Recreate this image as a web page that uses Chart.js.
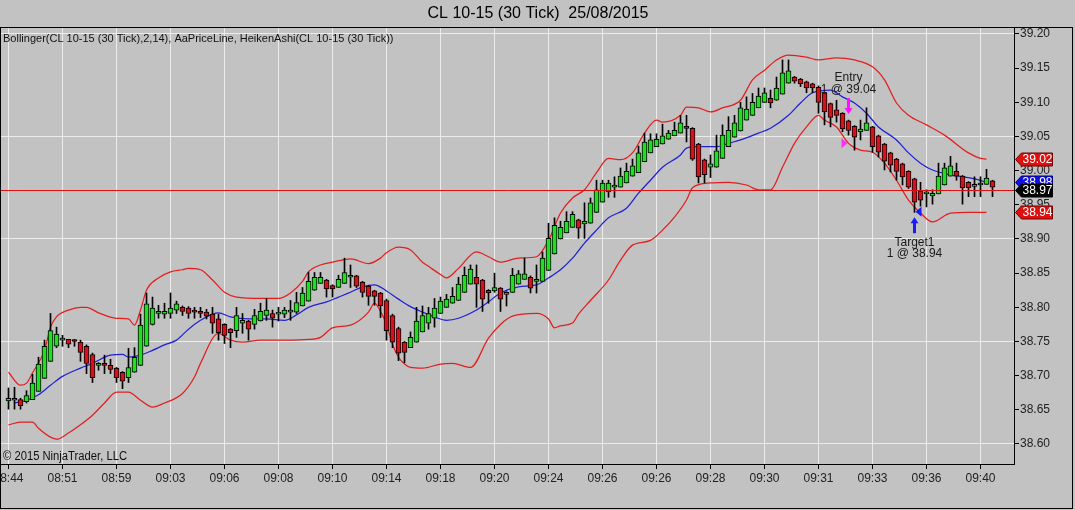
<!DOCTYPE html>
<html>
<head>
<meta charset="utf-8">
<title>CL 10-15 (30 Tick)</title>
<script src="https://cdn.jsdelivr.net/npm/chart.js@4.4.1/dist/chart.umd.min.js"></script>
<style>
    html, body { margin: 0; padding: 0; background: #c2c2c2; }
    canvas { display: block; }
</style>
</head>
<body>
<canvas id="myChart" width="1075" height="510"></canvas>
<script>
// Heiken Ashi bars, one per 30 tick bar (index 0..164)
const haOpen = [
    38.663, 38.664, 38.665, 38.662, 38.665, 38.677, 38.696, 38.721, 38.743, 38.752,
    38.753, 38.751, 38.749, 38.743, 38.731, 38.715, 38.716, 38.715, 38.711, 38.705,
    38.697, 38.705, 38.715, 38.743, 38.775, 38.791, 38.790, 38.791, 38.796, 38.800,
    38.799, 38.795, 38.794, 38.793, 38.790, 38.783, 38.775, 38.768, 38.766, 38.777,
    38.780, 38.775, 38.780, 38.788, 38.791, 38.790, 38.790, 38.793, 38.793, 38.802,
    38.809, 38.825, 38.835, 38.840, 38.832, 38.829, 38.835, 38.844, 38.846, 38.837,
    38.831, 38.824, 38.821, 38.810, 38.788, 38.769, 38.749, 38.741, 38.749, 38.764,
    38.777, 38.784, 38.791, 38.800, 38.806, 38.810, 38.822, 38.834, 38.844, 38.840,
    38.825, 38.824, 38.828, 38.819, 38.822, 38.834, 38.841, 38.844, 38.838, 38.838,
    38.854, 38.878, 38.900, 38.909, 38.917, 38.928, 38.922, 38.923, 38.939, 38.954,
    38.969, 38.976, 38.976, 38.982, 38.992, 38.997, 39.013, 39.026, 39.035, 39.039,
    39.046, 39.051, 39.055, 39.063, 39.062, 39.039, 39.016, 39.005, 39.005, 39.018,
    39.035, 39.049, 39.058, 39.074, 39.081, 39.092, 39.100, 39.106, 39.103, 39.112,
    39.128, 39.137, 39.134, 39.130, 39.127, 39.122, 39.114, 39.098, 39.089, 39.084,
    39.073, 39.065, 39.057, 39.059, 39.064, 39.051, 39.039, 39.026, 39.017, 39.010,
    38.999, 38.988, 38.970, 38.966, 38.963, 38.966, 38.979, 38.992, 38.999, 38.992,
    38.983, 38.977, 38.979, 38.980, 38.985
];
const haHigh = [
    38.682, 38.683, 38.667, 38.678, 38.702, 38.727, 38.752, 38.791, 38.771, 38.759,
    38.753, 38.753, 38.752, 38.745, 38.733, 38.719, 38.730, 38.724, 38.712, 38.706,
    38.740, 38.741, 38.790, 38.821, 38.815, 38.803, 38.806, 38.821, 38.809, 38.802,
    38.801, 38.800, 38.800, 38.797, 38.800, 38.790, 38.776, 38.769, 38.800, 38.791,
    38.781, 38.797, 38.806, 38.813, 38.796, 38.800, 38.800, 38.810, 38.822, 38.829,
    38.851, 38.851, 38.851, 38.841, 38.833, 38.847, 38.872, 38.862, 38.847, 38.838,
    38.832, 38.825, 38.822, 38.812, 38.790, 38.771, 38.750, 38.764, 38.800, 38.802,
    38.800, 38.813, 38.815, 38.819, 38.829, 38.844, 38.859, 38.862, 38.862, 38.841,
    38.826, 38.850, 38.829, 38.823, 38.857, 38.854, 38.872, 38.846, 38.862, 38.881,
    38.923, 38.931, 38.926, 38.940, 38.940, 38.929, 38.953, 38.960, 38.986, 38.986,
    38.986, 38.991, 39.004, 39.011, 39.017, 39.036, 39.055, 39.054, 39.054, 39.068,
    39.059, 39.071, 39.081, 39.081, 39.063, 39.040, 39.017, 39.023, 39.052, 39.067,
    39.079, 39.081, 39.100, 39.108, 39.113, 39.121, 39.121, 39.118, 39.137, 39.162,
    39.162, 39.138, 39.135, 39.131, 39.128, 39.124, 39.115, 39.099, 39.103, 39.085,
    39.074, 39.066, 39.074, 39.092, 39.065, 39.052, 39.040, 39.027, 39.018, 39.011,
    39.000, 38.989, 38.983, 38.972, 38.972, 39.011, 39.011, 39.021, 39.011, 38.993,
    38.984, 38.991, 38.991, 39.002, 38.986
];
const haLow = [
    38.651, 38.651, 38.651, 38.660, 38.665, 38.677, 38.696, 38.721, 38.741, 38.743,
    38.741, 38.743, 38.721, 38.703, 38.690, 38.708, 38.703, 38.703, 38.690, 38.681,
    38.690, 38.705, 38.715, 38.743, 38.774, 38.784, 38.784, 38.784, 38.791, 38.788,
    38.784, 38.784, 38.785, 38.783, 38.762, 38.752, 38.747, 38.741, 38.756, 38.762,
    38.752, 38.768, 38.780, 38.781, 38.771, 38.780, 38.785, 38.781, 38.791, 38.802,
    38.809, 38.825, 38.835, 38.815, 38.815, 38.829, 38.835, 38.829, 38.829, 38.815,
    38.803, 38.803, 38.785, 38.752, 38.741, 38.722, 38.719, 38.741, 38.749, 38.764,
    38.768, 38.771, 38.791, 38.800, 38.806, 38.810, 38.822, 38.834, 38.800, 38.794,
    38.806, 38.822, 38.794, 38.802, 38.822, 38.834, 38.841, 38.821, 38.821, 38.838,
    38.854, 38.878, 38.900, 38.909, 38.917, 38.901, 38.901, 38.923, 38.939, 38.954,
    38.961, 38.961, 38.976, 38.982, 38.992, 38.997, 39.013, 39.026, 39.035, 39.039,
    39.046, 39.051, 39.055, 39.042, 39.015, 38.982, 38.982, 38.990, 39.005, 39.018,
    39.035, 39.049, 39.058, 39.074, 39.081, 39.092, 39.100, 39.092, 39.103, 39.112,
    39.128, 39.128, 39.123, 39.114, 39.114, 39.084, 39.067, 39.064, 39.071, 39.057,
    39.052, 39.030, 39.045, 39.059, 39.027, 39.020, 39.001, 38.998, 38.986, 38.979,
    38.974, 38.939, 38.948, 38.947, 38.951, 38.966, 38.979, 38.992, 38.986, 38.951,
    38.962, 38.962, 38.962, 38.980, 38.962
];
const haClose = [
    38.667, 38.667, 38.656, 38.671, 38.689, 38.717, 38.743, 38.766, 38.761, 38.753,
    38.746, 38.750, 38.734, 38.718, 38.697, 38.715, 38.715, 38.709, 38.697, 38.692,
    38.712, 38.727, 38.774, 38.805, 38.799, 38.794, 38.794, 38.799, 38.805, 38.794,
    38.791, 38.793, 38.791, 38.787, 38.777, 38.763, 38.759, 38.763, 38.788, 38.781,
    38.768, 38.788, 38.794, 38.796, 38.784, 38.791, 38.796, 38.796, 38.807, 38.821,
    38.838, 38.844, 38.844, 38.827, 38.827, 38.841, 38.851, 38.847, 38.831, 38.822,
    38.816, 38.816, 38.802, 38.766, 38.749, 38.733, 38.734, 38.756, 38.780, 38.788,
    38.791, 38.799, 38.809, 38.812, 38.816, 38.834, 38.847, 38.856, 38.834, 38.812,
    38.821, 38.829, 38.812, 38.822, 38.847, 38.849, 38.849, 38.828, 38.839, 38.872,
    38.901, 38.920, 38.917, 38.926, 38.936, 38.916, 38.926, 38.953, 38.972, 38.982,
    38.982, 38.977, 38.992, 38.999, 39.007, 39.026, 39.042, 39.045, 39.046, 39.051,
    39.055, 39.059, 39.070, 39.062, 39.017, 38.991, 38.994, 39.010, 39.029, 39.052,
    39.059, 39.070, 39.092, 39.090, 39.100, 39.109, 39.114, 39.099, 39.121, 39.143,
    39.146, 39.131, 39.127, 39.121, 39.121, 39.100, 39.086, 39.078, 39.081, 39.061,
    39.059, 39.049, 39.061, 39.070, 39.035, 39.027, 39.014, 39.008, 38.999, 38.991,
    38.976, 38.954, 38.957, 38.966, 38.967, 38.992, 39.004, 39.007, 38.992, 38.975,
    38.975, 38.980, 38.982, 38.989, 38.976
];

// Bollinger(2,14) as [bar index, value]
const upperBand = [
    [0, 38.705], [2, 38.686], [3, 38.689], [4, 38.704], [6, 38.737], [7, 38.771], [8, 38.786],
    [10, 38.796], [12, 38.800], [13, 38.800], [15, 38.792], [18, 38.784], [20, 38.783], [21, 38.774],
    [22, 38.796], [23, 38.825], [25, 38.843], [27, 38.852], [29, 38.855], [30, 38.857], [32, 38.855],
    [34, 38.840], [36, 38.822], [38, 38.815], [42, 38.813], [45, 38.813], [47, 38.821], [49, 38.838],
    [50, 38.852], [52, 38.862], [54, 38.866], [57, 38.871], [60, 38.864], [62, 38.872], [63, 38.880],
    [65, 38.888], [67, 38.884], [69, 38.866], [70, 38.860], [72, 38.848], [73, 38.843], [75, 38.857],
    [78, 38.881], [80, 38.874], [82, 38.866], [85, 38.872], [88, 38.874], [90, 38.898], [92, 38.938],
    [94, 38.960], [96, 38.972], [98, 38.997], [100, 39.018], [102, 39.016], [104, 39.026], [106, 39.055],
    [108, 39.074], [109, 39.071], [112, 39.081], [113, 39.093], [115, 39.092], [117, 39.086], [119, 39.092],
    [122, 39.103], [124, 39.133], [126, 39.147], [128, 39.162], [130, 39.169], [133, 39.166], [135, 39.162],
    [138, 39.165], [141, 39.162], [144, 39.152], [146, 39.133], [148, 39.099], [150, 39.081], [153, 39.067],
    [156, 39.052], [160, 39.026], [162, 39.018], [163, 39.017]
];
const middleBand = [
    [1, 38.660], [3, 38.664], [5, 38.672], [7, 38.686], [9, 38.699], [12, 38.711], [14, 38.718],
    [17, 38.730], [19, 38.731], [20, 38.727], [22, 38.730], [24, 38.737], [26, 38.745], [28, 38.752],
    [30, 38.768], [32, 38.781], [34, 38.790], [35, 38.792], [37, 38.786], [40, 38.783], [43, 38.783],
    [46, 38.781], [48, 38.789], [50, 38.800], [53, 38.808], [55, 38.815], [57, 38.822], [59, 38.830],
    [61, 38.833], [63, 38.824], [65, 38.812], [67, 38.801], [69, 38.793], [71, 38.786], [73, 38.781],
    [75, 38.784], [78, 38.796], [80, 38.808], [82, 38.821], [85, 38.830], [88, 38.833], [90, 38.843],
    [92, 38.855], [94, 38.872], [96, 38.894], [98, 38.913], [100, 38.931], [103, 38.945], [105, 38.967],
    [107, 38.986], [109, 39.005], [112, 39.023], [113, 39.033], [115, 39.035], [118, 39.035], [120, 39.040],
    [122, 39.045], [125, 39.055], [127, 39.062], [130, 39.081], [132, 39.099], [134, 39.114], [137, 39.118],
    [139, 39.108], [141, 39.099], [143, 39.084], [145, 39.064], [148, 39.045], [150, 39.026], [152, 39.011],
    [154, 39.001], [157, 38.994], [159, 38.991], [161, 38.988], [163, 38.983]
];
const lowerBand = [
    [0, 38.628], [2, 38.632], [4, 38.632], [5, 38.623], [7, 38.610], [8, 38.607], [10, 38.616],
    [12, 38.628], [14, 38.642], [16, 38.660], [18, 38.676], [20, 38.676], [22, 38.664], [24, 38.654],
    [26, 38.660], [29, 38.674], [31, 38.698], [32, 38.718], [35, 38.762], [37, 38.752], [39, 38.749],
    [42, 38.752], [46, 38.752], [50, 38.753], [52, 38.756], [54, 38.770], [57, 38.774], [60, 38.793],
    [61, 38.806], [62, 38.794], [63, 38.775], [64, 38.746], [65, 38.727], [66, 38.717], [67, 38.712],
    [69, 38.711], [72, 38.717], [74, 38.718], [77, 38.712], [80, 38.755], [82, 38.775], [84, 38.787],
    [88, 38.791], [90, 38.783], [91, 38.770], [92, 38.773], [94, 38.777], [95, 38.790], [97, 38.810],
    [100, 38.840], [102, 38.869], [104, 38.891], [107, 38.898], [109, 38.913], [111, 38.932], [113, 38.957],
    [114, 38.975], [117, 38.982], [120, 38.983], [123, 38.979], [125, 38.972], [127, 38.972], [129, 39.005],
    [131, 39.040], [133, 39.064], [135, 39.081], [136, 39.074], [138, 39.064], [140, 39.040], [142, 39.030],
    [144, 39.027], [146, 39.011], [148, 38.986], [150, 38.957], [152, 38.938], [154, 38.925], [157, 38.938],
    [160, 38.939], [163, 38.939]
];

const priceLine = 38.972;           // AaPriceLine
const entryBar = 140, entryPrice = 39.04;
const targetBar = 151, targetPrice = 38.94;

const timeLabels = ['08:44', '08:51', '08:59', '09:03', '09:06', '09:08', '09:10', '09:14', '09:18', '09:20',
    '09:24', '09:26', '09:26', '09:28', '09:30', '09:31', '09:33', '09:36', '09:40'];
const timeTickBars = [0, 9, 18, 27, 36, 45, 54, 63, 72, 81, 90, 99, 108, 117, 126, 135, 144, 153, 162];
const priceTicks = [38.60, 38.65, 38.70, 38.75, 38.80, 38.85, 38.90, 38.95, 39.00, 39.05, 39.10, 39.15, 39.20];
const gridPrices = [38.60, 38.75, 38.90, 39.05, 39.20];

const FONT = "'Liberation Sans', Arial, sans-serif";
const BG = '#c2c2c2';
const UP = '#1fe01f', DOWN = '#d8101c';

Chart.defaults.font.family = FONT;
Chart.defaults.font.size = 12;
Chart.defaults.color = '#111';

const toXY = pts => pts.map(([x, y]) => ({ x, y }));
const last = band => band[band.length - 1][1];

function drawArrow(ctx, cx, tipY, dir, color) {
    // dir 1: points down, -1: points up
    const head = 6, shaft = 10;
    ctx.fillStyle = color;
    ctx.beginPath();
    ctx.moveTo(cx, tipY);
    ctx.lineTo(cx - 4, tipY - dir * head);
    ctx.lineTo(cx - 1.5, tipY - dir * head);
    ctx.lineTo(cx - 1.5, tipY - dir * (head + shaft));
    ctx.lineTo(cx + 1.5, tipY - dir * (head + shaft));
    ctx.lineTo(cx + 1.5, tipY - dir * head);
    ctx.lineTo(cx + 4, tipY - dir * head);
    ctx.closePath();
    ctx.fill();
}

function drawTriangle(ctx, tipX, cy, dir, color) {
    // dir 1: points right, -1: points left
    ctx.fillStyle = color;
    ctx.beginPath();
    ctx.moveTo(tipX, cy);
    ctx.lineTo(tipX - dir * 6, cy - 5);
    ctx.lineTo(tipX - dir * 6, cy + 5);
    ctx.closePath();
    ctx.fill();
}

function drawTag(ctx, y, text, fill, stroke) {
    const x0 = 1015.5, x1 = 1052.5, h = 6.5;
    ctx.beginPath();
    ctx.moveTo(x0, y);
    ctx.lineTo(x0 + 6, y - h);
    ctx.lineTo(x1, y - h);
    ctx.lineTo(x1, y + h);
    ctx.lineTo(x0 + 6, y + h);
    ctx.closePath();
    ctx.fillStyle = fill;
    ctx.fill();
    ctx.strokeStyle = stroke;
    ctx.lineWidth = 1;
    ctx.stroke();
    ctx.fillStyle = '#fff';
    ctx.font = '12px ' + FONT;
    ctx.textAlign = 'left';
    ctx.textBaseline = 'middle';
    ctx.fillText(text, x0 + 7, y + 0.5);
}

const chartDecor = {
    id: 'chartDecor',
    beforeDraw(chart) {
        const { ctx, width, height } = chart;
        ctx.save();
        ctx.fillStyle = BG;
        ctx.fillRect(0, 0, width, height);
        ctx.restore();
    },
    afterDatasetsDraw(chart) {
        const { ctx, chartArea, scales: { x, y } } = chart;
        ctx.save();

        // price line
        const py = Math.round(y.getPixelForValue(priceLine)) + 0.5;
        ctx.strokeStyle = '#e01010';
        ctx.lineWidth = 1;
        ctx.beginPath();
        ctx.moveTo(chartArea.left, py);
        ctx.lineTo(chartArea.right, py);
        ctx.stroke();

        ctx.font = '12px ' + FONT;
        ctx.textAlign = 'center';
        ctx.textBaseline = 'middle';

        // entry (short)
        const ex = x.getPixelForValue(entryBar);
        const eTip = y.getPixelForValue(haHigh[entryBar]) - 6;
        drawArrow(ctx, ex, eTip, 1, '#ff10ff');
        drawTriangle(ctx, ex - 1, y.getPixelForValue(entryPrice), 1, '#ff30ff');
        ctx.fillStyle = '#1a1a1a';
        ctx.fillText('Entry', ex, eTip - 36);
        ctx.fillText('1 @ ' + entryPrice.toFixed(2), ex, eTip - 24);

        // target
        const tx = x.getPixelForValue(targetBar);
        const tTip = y.getPixelForValue(haLow[targetBar]) + 5;
        drawArrow(ctx, tx, tTip, -1, '#1a1aff');
        drawTriangle(ctx, tx + 1, y.getPixelForValue(targetPrice), -1, '#1a1aff');
        ctx.fillStyle = '#1a1a1a';
        ctx.fillText('Target1', tx, tTip + 25);
        ctx.fillText('1 @ ' + targetPrice.toFixed(2), tx, tTip + 36);

        ctx.restore();
    },
    afterDraw(chart) {
        const { ctx, scales: { y } } = chart;
        ctx.save();

        // indicator caption and copyright
        ctx.fillStyle = '#111';
        ctx.textAlign = 'left';
        ctx.textBaseline = 'middle';
        ctx.font = '11px ' + FONT;
        ctx.fillText('Bollinger(CL 10-15 (30 Tick),2,14), AaPriceLine, HeikenAshi(CL 10-15 (30 Tick))', 3, 39, 392);
        ctx.font = '12px ' + FONT;
        ctx.fillText('\u00A9 2015 NinjaTrader, LLC', 3, 457, 124);

        // value tags on the price axis
        const tagY = v => Math.round(y.getPixelForValue(v)) + 0.5;
        drawTag(ctx, tagY(last(middleBand)), last(middleBand).toFixed(2), '#1010e0', '#000080');
        drawTag(ctx, tagY(priceLine), priceLine.toFixed(2), '#000', '#000');
        drawTag(ctx, tagY(last(upperBand)), last(upperBand).toFixed(2), '#e01010', '#700000');
        drawTag(ctx, tagY(last(lowerBand)), last(lowerBand).toFixed(2), '#e01010', '#700000');

        // outer frame
        ctx.strokeStyle = '#000';
        ctx.lineWidth = 1;
        ctx.strokeRect(0.5, 27.5, 1072, 481);
        ctx.restore();
    }
};

const bodies = haOpen.map((o, i) => ({ x: i, y: [o, haClose[i]] }));
const wicks = haLow.map((l, i) => ({ x: i, y: [l, haHigh[i]] }));

const ctx = document.getElementById('myChart').getContext('2d');

new Chart(ctx, {
    type: 'bar',
    data: {
        datasets: [
            {
                type: 'line', data: toXY(upperBand), borderColor: '#e41e1e', borderWidth: 1.25,
                pointRadius: 0, cubicInterpolationMode: 'monotone', order: 3
            },
            {
                type: 'line', data: toXY(lowerBand), borderColor: '#e41e1e', borderWidth: 1.25,
                pointRadius: 0, cubicInterpolationMode: 'monotone', order: 3
            },
            {
                type: 'line', data: toXY(middleBand), borderColor: '#2020d8', borderWidth: 1.25,
                pointRadius: 0, cubicInterpolationMode: 'monotone', order: 3
            },
            {
                type: 'bar', data: wicks, backgroundColor: '#000', barThickness: 1,
                grouped: false, order: 2
            },
            {
                type: 'bar', data: bodies,
                backgroundColor: c => (c.raw.y[1] >= c.raw.y[0] ? UP : DOWN),
                borderColor: '#000', borderWidth: 1, borderSkipped: false,
                barThickness: 5, minBarLength: 2, grouped: false, order: 1
            }
        ]
    },
    options: {
        responsive: false,
        animation: false,
        devicePixelRatio: 1,
        events: [],
        layout: { padding: { left: 1, right: 0, top: 0, bottom: 0 } },
        plugins: {
            legend: { display: false },
            tooltip: { enabled: false },
            title: {
                display: true,
                text: 'CL 10-15 (30 Tick)  25/08/2015',
                color: '#000',
                font: { size: 16, weight: 'normal', lineHeight: 1.25 },
                padding: { top: 4, bottom: 3 }
            }
        },
        scales: {
            x: {
                type: 'linear',
                min: -1.25,
                max: 167.583,
                offset: false,
                afterBuildTicks: s => { s.ticks = timeTickBars.map(v => ({ value: v })); },
                afterFit: s => { s.height = 46; s.paddingLeft = 0; s.paddingRight = 0; },
                ticks: {
                    autoSkip: false, maxRotation: 0, minRotation: 0, padding: 2, color: '#222',
                    callback: (v, i) => timeLabels[i]
                },
                grid: { offset: false, color: '#ececec', tickColor: '#000', tickLength: 5 },
                border: { color: '#000' }
            },
            y: {
                position: 'right',
                min: 38.57073,
                max: 39.21024,
                afterBuildTicks: s => { s.ticks = priceTicks.map(v => ({ value: v })); },
                afterFit: s => { s.width = 61; s.paddingTop = 0; s.paddingBottom = 0; },
                ticks: { padding: 1, color: '#222', callback: v => v.toFixed(2) },
                grid: {
                    color: c => (gridPrices.some(g => Math.abs(g - c.tick.value) < 1e-6) ? '#ececec' : 'rgba(0,0,0,0)'),
                    tickColor: '#000',
                    tickLength: 5
                },
                border: { color: '#000' }
            }
        }
    },
    plugins: [chartDecor]
});
</script>
</body>
</html>
